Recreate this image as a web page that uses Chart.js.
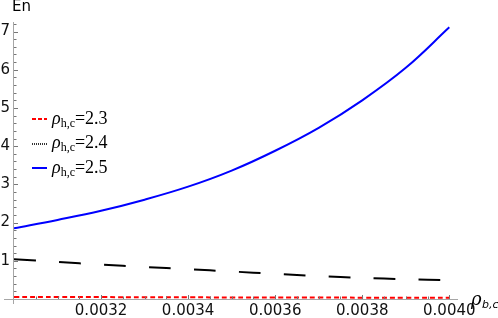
<!DOCTYPE html>
<html>
<head>
<meta charset="utf-8">
<script src="https://cdn.jsdelivr.net/npm/chart.js@4/dist/chart.umd.min.js"></script>
<style>
  body { margin: 0; background: #fff; }
  #wrap { position: relative; width: 498px; height: 318px; }
  #legend { position: absolute; left: 30px; top: 107px; font-family: "Liberation Serif", serif; font-size: 18px; color: #000; }
  #legend .row { height: 24.5px; display: flex; align-items: center; }
  #legend svg { margin-right: 5px; }
  #legend i { font-style: italic; }
  #legend sub { font-size: 12px; vertical-align: -3px; }
</style>
</head>
<body>
<div id="wrap">
  <canvas id="c" width="498" height="318"></canvas>
  <div id="legend">
    <div class="row"><svg width="17" height="4"><line x1="2" y1="2" x2="17" y2="2" stroke="#ff0000" stroke-width="2" stroke-dasharray="4,2"/></svg><span><i>ρ</i><sub>h,c</sub>=2.3</span></div>
    <div class="row"><svg width="17" height="4"><line x1="2" y1="2" x2="17" y2="2" stroke="#333" stroke-width="2" stroke-dasharray="1,1"/></svg><span><i>ρ</i><sub>h,c</sub>=2.4</span></div>
    <div class="row"><svg width="17" height="4"><line x1="2" y1="2" x2="17" y2="2" stroke="#0000ff" stroke-width="2"/></svg><span><i>ρ</i><sub>h,c</sub>=2.5</span></div>
  </div>
</div>
<script>
const rhoB = [0.0030, 0.0031, 0.0032, 0.0033, 0.0034, 0.0035, 0.0036, 0.0037, 0.0038, 0.0039, 0.0040];
const enRho23 = [0.05, 0.05, 0.05, 0.045, 0.045, 0.04, 0.04, 0.04, 0.035, 0.035, 0.035];
const enRho24 = [1.04, 0.97, 0.90, 0.84, 0.78, 0.72, 0.66, 0.60, 0.55, 0.52, 0.49];
const enRho25 = [1.85, 2.07, 2.31, 2.60, 2.94, 3.36, 3.88, 4.48, 5.20, 6.05, 7.11];

const xMajor = [0.0032, 0.0034, 0.0036, 0.0038, 0.0040];
const yMajor = [1, 2, 3, 4, 5, 6, 7];

const pts = ys => rhoB.map((x, i) => ({ x: x, y: ys[i] }));

const axisGray = "#a6a6a6";

// mathematica-style axes: lines, inward ticks, axis titles
const axesPlugin = {
  id: "axes",
  afterDatasetsDraw(chart) {
    const ctx = chart.ctx;
    const xs = chart.scales.x, ys = chart.scales.y;
    const x0 = xs.getPixelForValue(0.003);
    const y0 = ys.getPixelForValue(0);
    ctx.save();
    ctx.strokeStyle = axisGray;
    ctx.lineWidth = 1;
    ctx.beginPath();
    ctx.moveTo(4, y0 + 0.5); ctx.lineTo(xs.right, y0 + 0.5);
    ctx.moveTo(x0 - 0.5, ys.top); ctx.lineTo(x0 - 0.5, y0 + 5);
    ctx.stroke();

    ctx.strokeStyle = "#777";
    ctx.beginPath();
    for (let k = 1; k <= 20; k++) {
      const v = 0.003 + k * 0.00005;
      const px = Math.round(xs.getPixelForValue(v)) + 0.5;
      const len = k % 4 === 0 ? 4 : 2.5;
      ctx.moveTo(px, y0); ctx.lineTo(px, y0 - len);
    }
    for (let k = 1; k <= 36; k++) {
      const v = k * 0.2;
      const py = Math.round(ys.getPixelForValue(v)) + 0.5;
      const len = k % 5 === 0 ? 4 : 2.5;
      ctx.moveTo(x0, py); ctx.lineTo(x0 + len, py);
    }
    ctx.stroke();

    ctx.fillStyle = "#000";
    ctx.textBaseline = "top";
    ctx.font = "15px 'DejaVu Sans'";
    ctx.fillText("En", 12, 0);
    ctx.textBaseline = "alphabetic";
    ctx.font = "italic 18px 'DejaVu Serif'";
    ctx.fillText("ρ", 471, 305);
    ctx.font = "italic 11px 'DejaVu Sans'";
    ctx.fillText("b,c", 482, 308);
    ctx.restore();
  }
};

new Chart(document.getElementById("c"), {
  type: "line",
  data: {
    datasets: [
      {
        label: "ρh,c=2.3",
        data: pts(enRho23),
        borderColor: "#ff0000",
        borderWidth: 2,
        borderDash: [5, 3],
        pointRadius: 0,
        tension: 0.4
      },
      {
        label: "ρh,c=2.4",
        data: pts(enRho24),
        borderColor: "#000000",
        borderWidth: 2,
        borderDash: [22, 23],
        pointRadius: 0,
        tension: 0.4
      },
      {
        label: "ρh,c=2.5",
        data: pts(enRho25),
        borderColor: "#0000ff",
        borderWidth: 2,
        pointRadius: 0,
        tension: 0.4
      }
    ]
  },
  options: {
    responsive: false,
    animation: false,
    layout: { padding: { top: 22, right: 40, left: 0, bottom: 0 } },
    plugins: { legend: { display: false }, tooltip: { enabled: false } },
    scales: {
      x: {
        type: "linear",
        min: 0.003,
        max: 0.00402,
        grid: { display: false, drawTicks: false },
        border: { display: false },
        afterFit: s => { s.height = 19; },
        ticks: {
          stepSize: 0.0002,
          includeBounds: false,
          autoSkip: false,
          maxRotation: 0,
          padding: 3,
          color: "#111",
          font: { family: "DejaVu Sans", size: 15 },
          callback: v => xMajor.some(m => Math.abs(m - v) < 1e-7) ? v.toFixed(4) : ""
        }
      },
      y: {
        min: 0,
        max: 7.25,
        grid: { display: false, drawTicks: false },
        border: { display: false },
        afterFit: s => { s.width = 14; },
        ticks: {
          stepSize: 1,
          includeBounds: false,
          padding: 4,
          color: "#111",
          font: { family: "DejaVu Sans", size: 15 },
          callback: v => yMajor.includes(v) ? String(v) : ""
        }
      }
    }
  },
  plugins: [axesPlugin]
});
</script>
</body>
</html>
